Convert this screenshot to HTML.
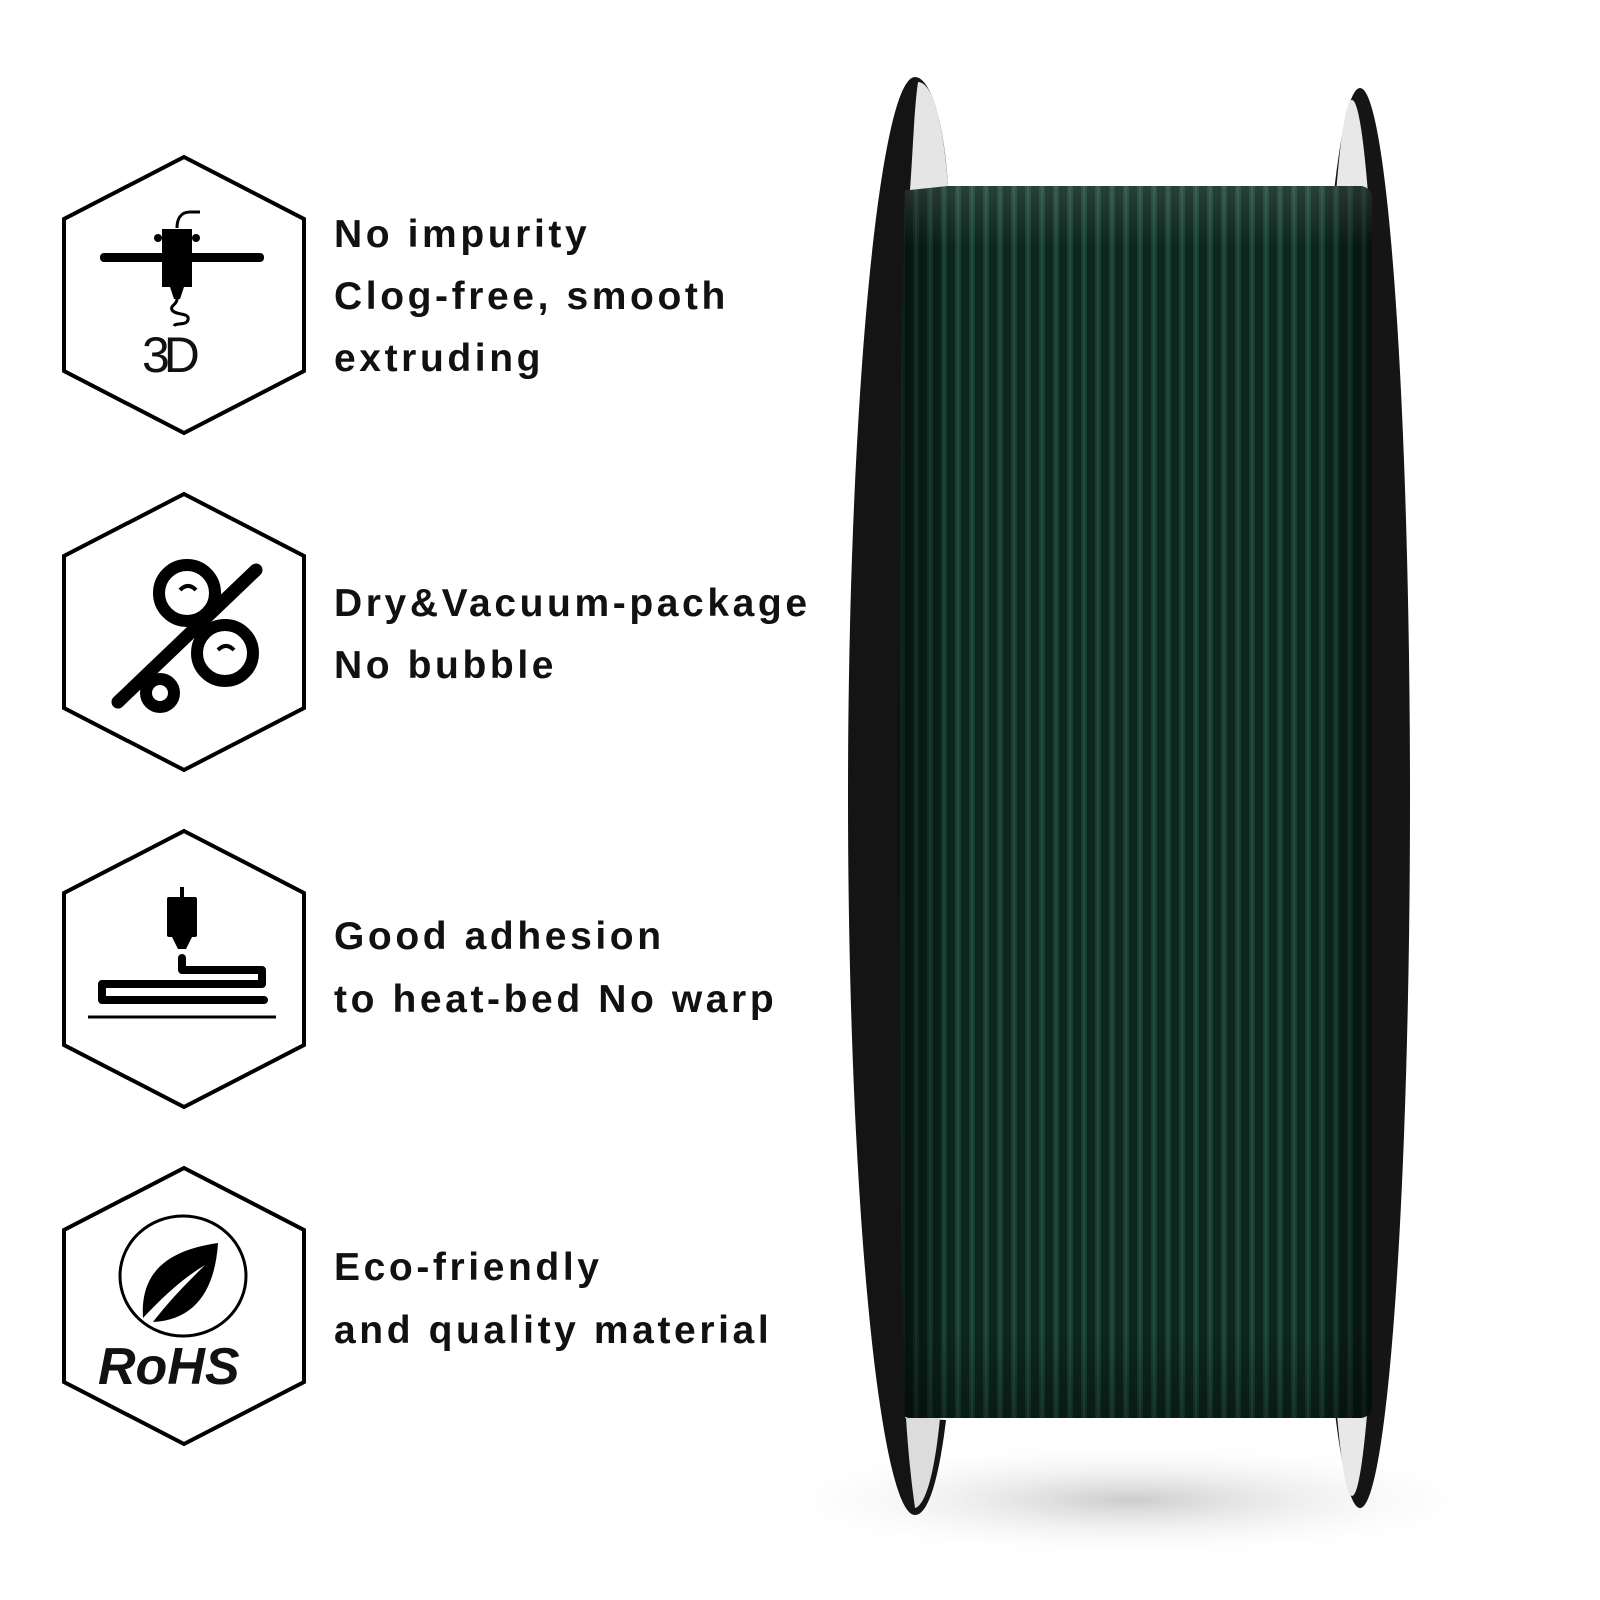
<!DOCTYPE html>
<html><head><meta charset="utf-8"><style>
html,body{margin:0;padding:0;background:#fff}
svg{display:block}
text{font-family:"Liberation Sans",sans-serif;font-weight:bold;font-size:39px;letter-spacing:3.6px;fill:#111}
</style></head><body>
<svg width="1600" height="1600" viewBox="0 0 1600 1600" xmlns="http://www.w3.org/2000/svg">
<defs>
<pattern id="str" x="0" y="0" width="14" height="10" patternUnits="userSpaceOnUse">
<rect width="14" height="10" fill="#0d2a20"/>
<rect x="3" width="6" height="10" fill="#1a4536"/>
<rect x="5" width="2" height="10" fill="#275545"/>
</pattern>
<linearGradient id="shade" x1="0" x2="1" y1="0" y2="0">
<stop offset="0" stop-color="#000" stop-opacity="0.6"/>
<stop offset="0.12" stop-color="#000" stop-opacity="0.1"/>
<stop offset="0.88" stop-color="#000" stop-opacity="0.1"/>
<stop offset="1" stop-color="#000" stop-opacity="0.6"/>
</linearGradient>
<linearGradient id="vsh" x1="0" x2="0" y1="0" y2="1">
<stop offset="0" stop-color="#fff" stop-opacity="0.12"/>
<stop offset="0.05" stop-color="#fff" stop-opacity="0"/>
<stop offset="0.93" stop-color="#000" stop-opacity="0"/>
<stop offset="1" stop-color="#000" stop-opacity="0.3"/>
</linearGradient>
<radialGradient id="shadow" cx="0.5" cy="0.5" r="0.5">
<stop offset="0" stop-color="#ccc"/><stop offset="1" stop-color="#fff" stop-opacity="0"/>
</radialGradient>
</defs>
<ellipse cx="1130" cy="1500" rx="380" ry="60" fill="url(#shadow)"/>
<!-- right flange -->
<ellipse cx="1360" cy="798" rx="50" ry="710" fill="#151515"/>
<ellipse cx="1352" cy="798" rx="32" ry="698" fill="#e8e8e8"/>
<path d="M1340 190 L1378 190 C1385 400 1388 600 1388 798 C1388 1000 1385 1200 1378 1410 L1340 1410 Z" fill="#151515"/>
<!-- filament body -->
<rect x="898" y="186" width="474" height="1232" rx="12" fill="url(#str)"/>
<rect x="898" y="186" width="474" height="1232" rx="12" fill="url(#shade)"/>
<rect x="898" y="186" width="474" height="1232" rx="12" fill="url(#vsh)"/>
<!-- left flange -->
<path d="M915 77 C880 77 848 400 848 796 C848 1200 880 1515 915 1515 C930 1515 940 1470 946 1420 L905 1418 C900 1200 898 1000 898 796 C898 600 900 380 905 190 L948 186 C944 120 930 77 915 77 Z" fill="#141414"/>
<path d="M918 82 C934 82 944 130 948 186 L910 190 C913 150 914 110 918 82 Z" fill="#e5e5e5"/>
<path d="M940 1418 C935 1470 926 1505 915 1508 C911 1480 908 1450 906 1418 Z" fill="#dcdcdc"/>
<!-- hexagons -->
<g fill="#fff" stroke="#000" stroke-width="4">
<polygon points="184,157 304,219 304,371 184,433 64,371 64,219"/>
<polygon points="184,494 304,556 304,708 184,770 64,708 64,556"/>
<polygon points="184,831 304,893 304,1045 184,1107 64,1045 64,893"/>
<polygon points="184,1168 304,1230 304,1382 184,1444 64,1382 64,1230"/>
</g>
<!-- icon 1 -->
<g fill="#000">
<rect x="100" y="253" width="164" height="9" rx="4"/>
<rect x="162" y="229" width="30" height="58"/>
<circle cx="158" cy="238" r="4"/><circle cx="196" cy="238" r="4"/>
<path d="M170 287 h14 l-4 12 h-6z"/>
</g>
<path d="M177 228 C177 220 180 212 190 212 L200 212" stroke="#000" stroke-width="3" fill="none"/>
<path d="M177 299 C177 305 170 305 172 310 C176 316 190 312 188 320 C186 326 176 322 174 326" stroke="#000" stroke-width="3" fill="none"/>
<text x="142" y="372" style="font-family:'Liberation Sans',sans-serif;font-size:50px;letter-spacing:-6px;font-weight:normal">3D</text>
<!-- icon 2 % -->
<g fill="none" stroke="#000" stroke-width="12">
<circle cx="187" cy="593" r="28"/>
<circle cx="225" cy="653" r="28"/>
<circle cx="160" cy="693" r="14"/>
</g>
<line x1="118" y1="702" x2="256" y2="570" stroke="#000" stroke-width="13" stroke-linecap="round"/>
<path d="M180 590 q8 -8 16 0 M218 650 q8 -8 16 0" stroke="#000" stroke-width="4" fill="none"/>
<!-- icon 3 -->
<g fill="#000">
<rect x="167" y="897" width="30" height="40" rx="2"/>
<rect x="180" y="887" width="4" height="12"/>
<path d="M172 937 h20 l-6 12 h-8z"/>
</g>
<path d="M182 958 v12 h80 v14 h-160 v16 h162" stroke="#000" stroke-width="8" fill="none" stroke-linecap="round" stroke-linejoin="round"/>
<line x1="88" y1="1017" x2="276" y2="1017" stroke="#000" stroke-width="3"/>
<!-- icon 4 RoHS -->
<ellipse cx="183" cy="1276" rx="63" ry="60" fill="none" stroke="#000" stroke-width="3"/>
<path d="M143 1318 C140 1270 170 1250 218 1243 C215 1290 195 1320 153 1322 C170 1300 185 1285 205 1265 C180 1280 160 1300 143 1318 Z" fill="#000"/>
<text x="98" y="1384" style="font-size:52px;font-style:italic;font-weight:bold;letter-spacing:0">RoHS</text>
<!-- texts -->
<text x="334" y="247">No impurity</text>
<text x="334" y="309">Clog-free, smooth</text>
<text x="334" y="371">extruding</text>
<text x="334" y="616">Dry&amp;Vacuum-package</text>
<text x="334" y="678">No bubble</text>
<text x="334" y="949">Good adhesion</text>
<text x="334" y="1012">to heat-bed No warp</text>
<text x="334" y="1280">Eco-friendly</text>
<text x="334" y="1343">and quality material</text>
</svg>
</body></html>
